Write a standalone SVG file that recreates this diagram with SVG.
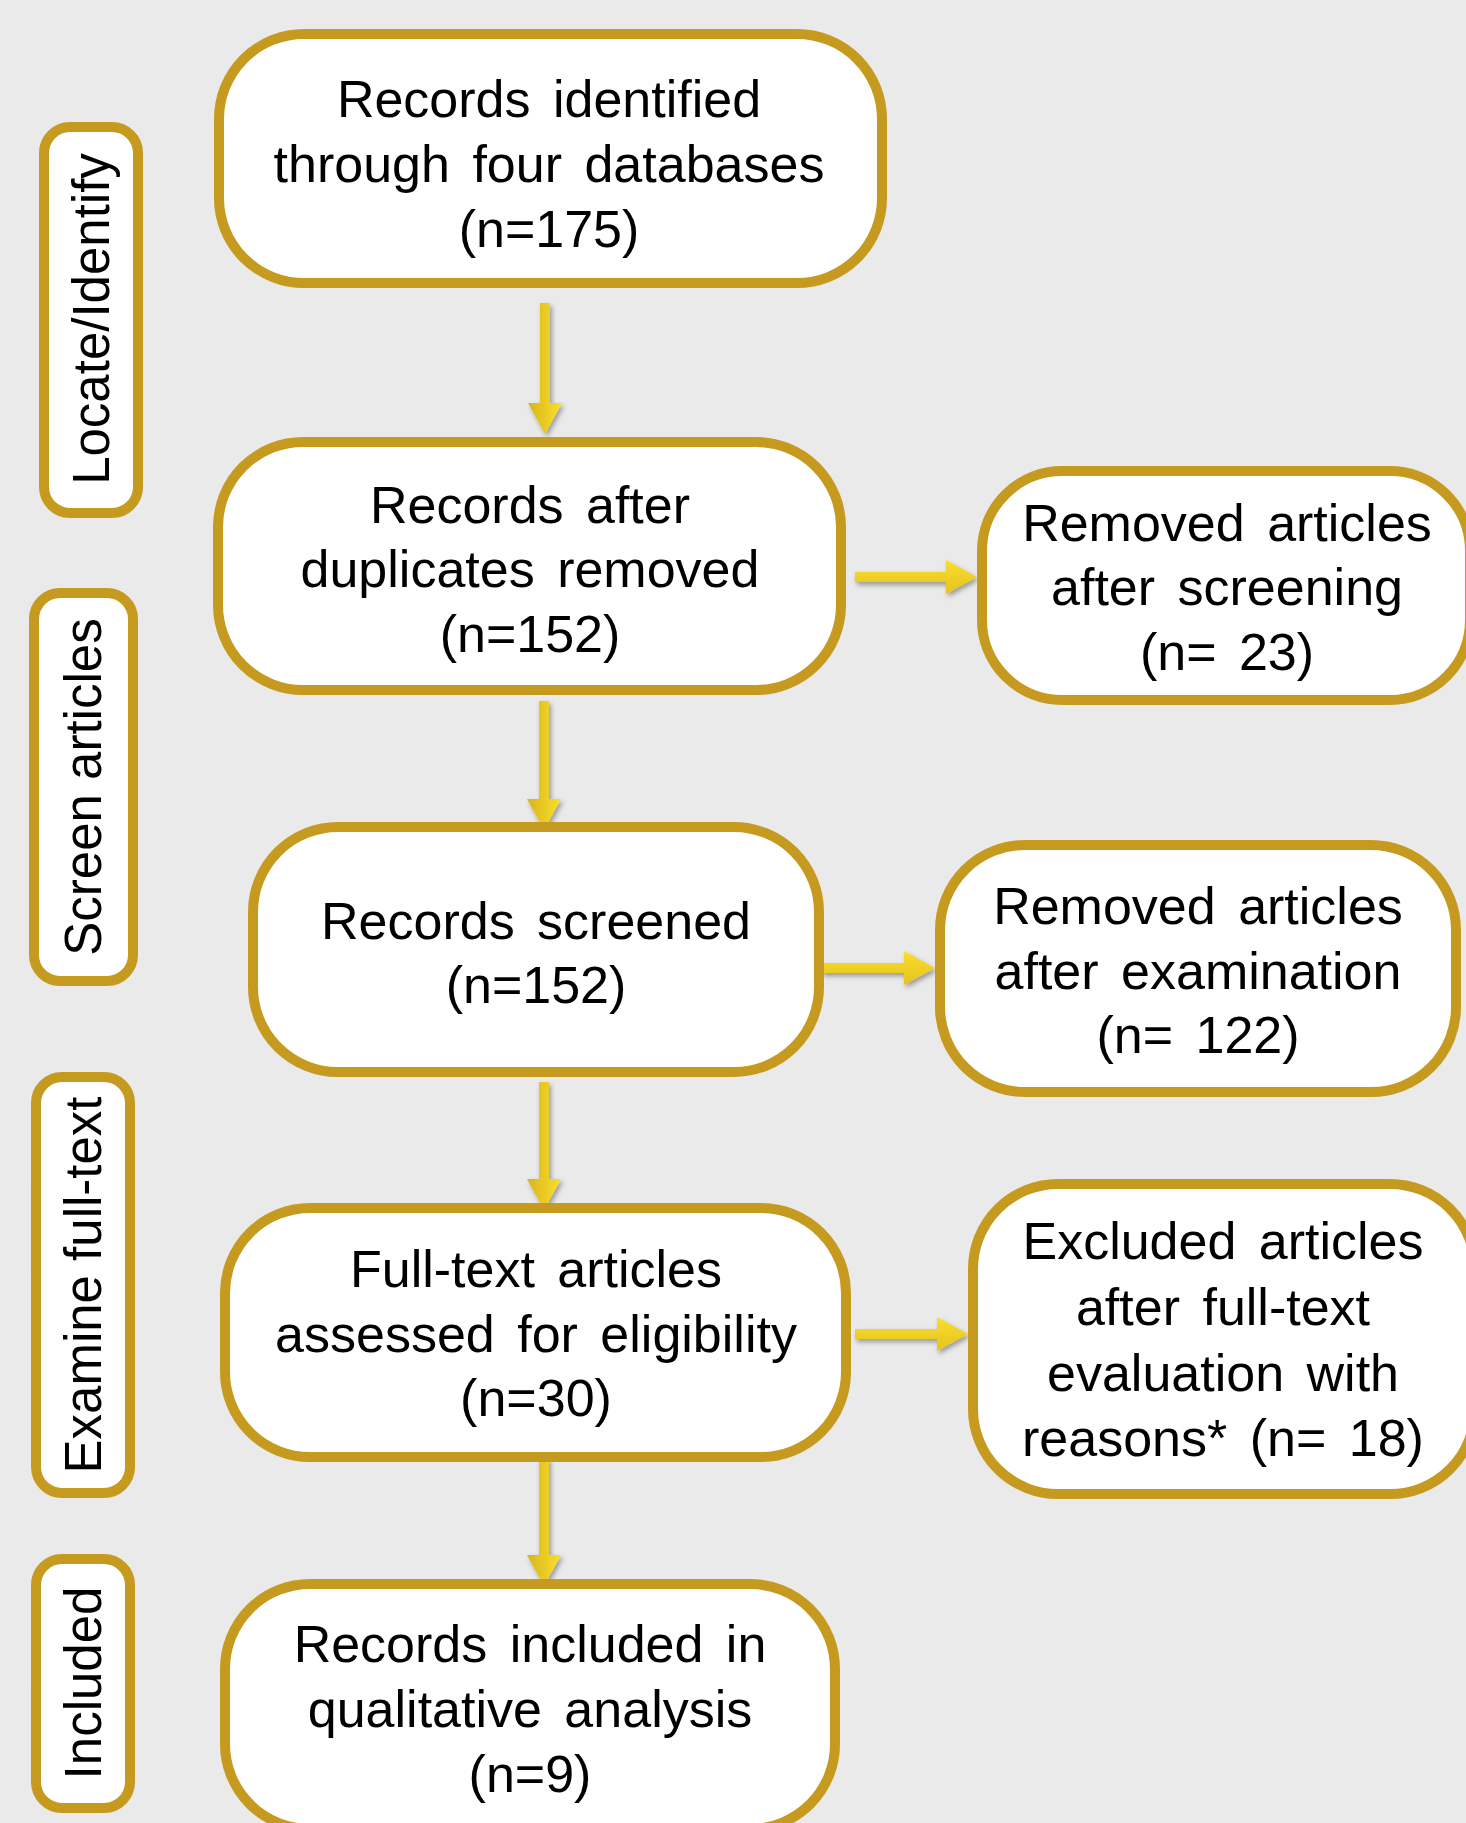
<svg xmlns="http://www.w3.org/2000/svg" width="1466" height="1823" viewBox="0 0 1466 1823">
<style>
.box{fill:#ffffff;stroke:#C59A1E;stroke-width:10}
.t{font-family:"Liberation Sans",Arial,sans-serif;font-size:52px;fill:#000;text-anchor:middle;word-spacing:8px}
.lab{font-family:"Liberation Sans",Arial,sans-serif;font-size:51px;fill:#000;text-anchor:middle}
</style>
<defs>
<linearGradient id="gv" x1="0" y1="0" x2="1" y2="0">
<stop offset="0" stop-color="#D9B41C"/><stop offset="1" stop-color="#F9E02C"/>
</linearGradient>
<linearGradient id="gh" x1="0" y1="0" x2="0" y2="1">
<stop offset="0" stop-color="#F9DE2C"/><stop offset="1" stop-color="#E6C21F"/>
</linearGradient>
<filter id="sh" x="-50%" y="-50%" width="200%" height="200%">
<feDropShadow dx="2" dy="3" stdDeviation="2.5" flood-color="#000" flood-opacity="0.35"/>
</filter>
</defs>
<rect width="1466" height="1823" fill="#EAEAEA"/>

<g id="lab-locate">
<rect class="box" x="44" y="127" width="94" height="386" rx="26"/>
<text class="lab" transform="translate(109,319) rotate(-90)">Locate/Identify</text>
</g>
<g id="lab-screen">
<rect class="box" x="34" y="593" width="99" height="388" rx="26"/>
<text class="lab" transform="translate(101,787) rotate(-90)">Screen articles</text>
</g>
<g id="lab-examine">
<rect class="box" x="36" y="1077" width="94" height="416" rx="26"/>
<text class="lab" transform="translate(101,1285) rotate(-90)">Examine full-text</text>
</g>
<g id="lab-included">
<rect class="box" x="36" y="1559" width="94" height="249" rx="26"/>
<text class="lab" transform="translate(101,1683) rotate(-90)">Included</text>
</g>

<g id="connectors" filter="url(#sh)">
<path fill="url(#gv)" d="M540,303 H550 V403 H562 L545,434 L528,403 H540 Z"/>
<path fill="url(#gv)" d="M539,701 H549 V799 H561 L544,830 L527,799 H539 Z"/>
<path fill="url(#gv)" d="M539,1082 H549 V1179 H561 L544,1210 L527,1179 H539 Z"/>
<path fill="url(#gv)" d="M539,1458 H549 V1555 H561 L544,1586 L527,1555 H539 Z"/>
<path fill="url(#gh)" d="M855,572 V582 H946 V594 L977,577 L946,560 V572 Z"/>
<path fill="url(#gh)" d="M821,963 V973 H904 V985 L935,968 L904,951 V963 Z"/>
<path fill="url(#gh)" d="M855,1329 V1339 H937 V1351 L968,1334 L937,1317 V1329 Z"/>
</g>

<g id="n1">
<rect class="box" x="219" y="34" width="663" height="249" rx="85"/>
<text class="t" x="549" y="117">Records identified</text>
<text class="t" x="549" y="182">through four databases</text>
<text class="t" x="549" y="247">(n=175)</text>
</g>
<g id="n2">
<rect class="box" x="218" y="442" width="623" height="248" rx="85"/>
<text class="t" x="530" y="523">Records after</text>
<text class="t" x="530" y="587">duplicates removed</text>
<text class="t" x="530" y="652">(n=152)</text>
</g>
<g id="n3">
<rect class="box" x="982" y="471" width="488" height="229" rx="80"/>
<text class="t" x="1227" y="541">Removed articles</text>
<text class="t" x="1227" y="605">after screening</text>
<text class="t" x="1227" y="670">(n= 23)</text>
</g>
<g id="n4">
<rect class="box" x="253" y="827" width="566" height="245" rx="85"/>
<text class="t" x="536" y="939">Records screened</text>
<text class="t" x="536" y="1003">(n=152)</text>
</g>
<g id="n5">
<rect class="box" x="940" y="845" width="516" height="247" rx="85"/>
<text class="t" x="1198" y="924">Removed articles</text>
<text class="t" x="1198" y="989">after examination</text>
<text class="t" x="1198" y="1053">(n= 122)</text>
</g>
<g id="n6">
<rect class="box" x="225" y="1208" width="621" height="249" rx="85"/>
<text class="t" x="536" y="1287">Full-text articles</text>
<text class="t" x="536" y="1352">assessed for eligibility</text>
<text class="t" x="536" y="1416">(n=30)</text>
</g>
<g id="n7">
<rect class="box" x="973" y="1184" width="502" height="310" rx="85"/>
<text class="t" x="1223" y="1259">Excluded articles</text>
<text class="t" x="1223" y="1325">after full-text</text>
<text class="t" x="1223" y="1391">evaluation with</text>
<text class="t" x="1223" y="1456">reasons* (n= 18)</text>
</g>
<g id="n8">
<rect class="box" x="225" y="1584" width="610" height="245" rx="85"/>
<text class="t" x="530" y="1662">Records included in</text>
<text class="t" x="530" y="1727">qualitative analysis</text>
<text class="t" x="530" y="1792">(n=9)</text>
</g>
</svg>
